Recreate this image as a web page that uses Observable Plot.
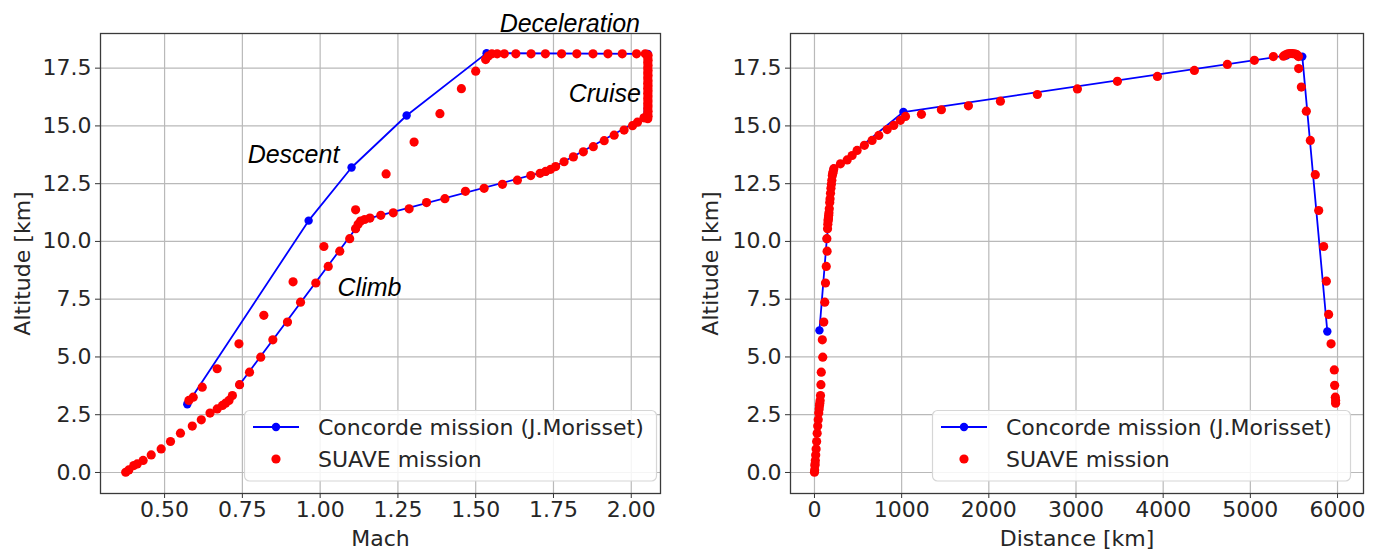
<!DOCTYPE html>
<html>
<head>
<meta charset="utf-8">
<script src="https://cdn.jsdelivr.net/npm/d3@7"></script>
<script src="https://cdn.jsdelivr.net/npm/@observablehq/plot@0.6"></script>
<style>
  body { margin: 0; background: #fff; }
  #wrap { position: relative; width: 1378px; height: 550px; overflow: hidden; }
  #wrap > svg { position: absolute; top: 0; }
</style>
</head>
<body>
<div id="wrap"></div>
<script>
// ---------- tick labels ----------
const altTicks = [0, 2.5, 5, 7.5, 10, 12.5, 15, 17.5];
const machTicks = [0.5, 0.75, 1.0, 1.25, 1.5, 1.75, 2.0];
const distTicks = [0, 1000, 2000, 3000, 4000, 5000, 6000];

// ---------- series names ----------
const seriesNames = ["Concorde mission (J.Morisset)", "SUAVE mission"];

// ---------- Concorde mission (J.Morisset) ----------
const concordeMach    = [0.741, 1.114, 1.160, 1.725, 2.041, 2.053, 1.535, 1.278, 1.101, 0.963, 0.573];
const concordeMachAlt = [3.80, 10.55, 11.01, 13.03, 15.35, 18.12, 18.15, 15.45, 13.20, 10.90, 2.95];
const concordeDist    = [57, 142, 222, 1020, 5413, 5596, 5883];
const concordeDistAlt = [6.15, 10.12, 13.15, 15.60, 18.05, 18.00, 6.10];

// ---------- SUAVE mission : Mach vs altitude ----------
const suaveMach = [
  0.375, 0.385, 0.401, 0.412, 0.431, 0.457, 0.489, 0.519, 0.551, 0.589, 0.618, 0.646, 0.669, 0.686, 0.696, 0.707, 0.718, 0.741,
  0.773, 0.809, 0.848, 0.895, 0.937, 0.986, 1.026, 1.063, 1.095, 1.114, 1.122, 1.130, 1.143, 1.160, 1.195, 1.235, 1.286, 1.342,
  1.401, 1.467, 1.527, 1.586, 1.634, 1.677, 1.707, 1.725, 1.741, 1.757, 1.784, 1.814, 1.846, 1.878, 1.913, 1.945, 1.977, 2.004,
  2.020, 2.041,
  2.053, 2.054, 2.053, 2.054, 2.053, 2.054, 2.053, 2.054, 2.053, 2.054, 2.053, 2.054, 2.053, 2.054, 2.053, 2.054, 2.053, 2.054,
  2.053, 2.054, 2.053, 2.054, 2.053, 2.054, 2.053, 2.054,
  2.045, 2.017, 1.971, 1.925, 1.877, 1.825, 1.776, 1.724, 1.678, 1.629, 1.592, 1.569, 1.552,
  1.540, 1.532, 1.500, 1.454, 1.385, 1.302, 1.212, 1.114, 1.012, 0.913, 0.819, 0.739, 0.669, 0.621, 0.592, 0.578
];
const suaveMachAlt = [
  0.01, 0.11, 0.30, 0.37, 0.52, 0.76, 1.02, 1.34, 1.70, 2.01, 2.28, 2.57, 2.75, 2.90, 3.00, 3.12, 3.33, 3.80,
  4.34, 4.99, 5.74, 6.51, 7.37, 8.20, 8.92, 9.58, 10.12, 10.55, 10.74, 10.88, 10.95, 11.01, 11.13, 11.24, 11.41, 11.68,
  11.85, 12.17, 12.30, 12.47, 12.65, 12.85, 12.95, 13.03, 13.12, 13.24, 13.45, 13.66, 13.88, 14.10, 14.36, 14.60, 14.82, 15.01,
  15.16, 15.35,
  15.31, 15.42, 15.53, 15.64, 15.75, 15.86, 15.97, 16.08, 16.19, 16.30, 16.41, 16.52, 16.63, 16.74, 16.85, 16.96, 17.07, 17.18,
  17.29, 17.40, 17.51, 17.62, 17.73, 17.84, 17.95, 18.06,
  18.12, 18.12, 18.12, 18.12, 18.12, 18.12, 18.12, 18.12, 18.12, 18.12, 18.12, 18.12, 18.12,
  18.02, 17.87, 17.37, 16.61, 15.53, 14.30, 12.92, 11.37, 9.78, 8.25, 6.80, 5.57, 4.49, 3.69, 3.26, 3.12
];

// ---------- SUAVE mission : distance vs altitude ----------
const suaveDist = [
  0, 2, 5, 7, 10, 14, 19, 25, 31, 37, 43, 49, 54, 58, 61, 65, 69, 74,
  78, 95, 90, 107, 118, 126, 135, 145, 142, 150, 153, 156, 158, 160, 163, 166, 170, 175,
  179, 184, 189, 194, 199, 205, 210, 215, 222,
  298, 375, 432, 489, 573, 661, 738, 834, 909, 986, 1044,
  1227, 1456, 1766, 2133, 2557, 3016, 3475, 3934, 4358, 4736, 5046, 5264,
  5380, 5405, 5430, 5455, 5480, 5505, 5525, 5540, 5552,
  5554, 5585, 5642, 5688, 5745, 5784, 5841, 5872, 5898, 5926, 5963, 5967, 5975, 5978, 5978
];
const suaveDistAlt = [
  0.01, 0.11, 0.30, 0.37, 0.52, 0.76, 1.02, 1.34, 1.70, 2.01, 2.28, 2.57, 2.75, 2.90, 3.00, 3.12, 3.33, 3.80,
  4.34, 4.99, 5.74, 6.51, 7.37, 8.20, 8.92, 9.58, 10.12, 10.55, 10.74, 10.88, 10.95, 11.01, 11.13, 11.24, 11.41, 11.68,
  11.85, 12.09, 12.30, 12.47, 12.65, 12.85, 12.95, 13.03, 13.15,
  13.36, 13.53, 13.72, 13.94, 14.16, 14.37, 14.59, 14.84, 15.02, 15.24, 15.41,
  15.50, 15.70, 15.87, 16.07, 16.36, 16.60, 16.93, 17.14, 17.40, 17.66, 17.84, 18.00,
  18.02, 18.08, 18.12, 18.13, 18.13, 18.12, 18.10, 18.06, 18.00,
  17.48, 16.68, 15.64, 14.37, 12.89, 11.34, 9.78, 8.28, 6.84, 5.57, 4.44, 3.77, 3.26, 3.12, 3.00
];

// ---------- phase annotations (data coordinates, left panel) ----------
const phaseLabels = ["Deceleration", "Cruise", "Descent", "Climb"];
const phaseMach   = [1.577, 1.799, 0.767, 1.056];
const phaseAlt    = [19.39, 16.36, 13.76, 8.0];

// ---------- build tables ----------
const zip = (xs, ys) => xs.map((x, i) => ({x, y: ys[i]}));
const concordeL = zip(concordeMach, concordeMachAlt);
const concordeR = zip(concordeDist, concordeDistAlt);
const suaveL = zip(suaveMach, suaveMachAlt);
const suaveR = zip(suaveDist, suaveDistAlt);
const phases = phaseLabels.map((t, i) => ({t, x: phaseMach[i], y: phaseAlt[i]}));

const BLUE = "#0000ff", RED = "#ff0000", GRID = "#b9b9b9", INK = "#262626";
const FONT = "DejaVu Sans";
const yDomain = [-0.91, 19.0];

function panel({width, marginLeft, marginRight, xDomain, xTicks, xFmt, xLabel, yLabelDx, concorde, suave, extra}) {
  return Plot.plot({
    width, height: 550,
    marginLeft, marginRight, marginTop: 33, marginBottom: 57,
    x: {domain: xDomain},
    y: {domain: yDomain},
    style: {fontFamily: FONT, fontSize: "22px", color: INK, background: "transparent", overflow: "visible"},
    marks: [
      Plot.gridX(xTicks, {stroke: GRID, strokeOpacity: 1, strokeWidth: 1.2}),
      Plot.gridY(altTicks, {stroke: GRID, strokeOpacity: 1, strokeWidth: 1.2}),
      Plot.axisX(xTicks, {tickFormat: xFmt, tickSize: 5, tickPadding: 3, label: null, stroke: "#333", fill: INK}),
      Plot.axisY(altTicks, {tickFormat: d => d.toFixed(1), tickSize: 5, tickPadding: 4, label: null, stroke: "#333", fill: INK}),
      Plot.frame({stroke: "#3a3a3a", strokeWidth: 1.3}),
      Plot.line(concorde, {x: "x", y: "y", stroke: BLUE, strokeWidth: 1.8}),
      Plot.dot(concorde, {x: "x", y: "y", fill: BLUE, r: 4.2}),
      Plot.dot(suave, {x: "x", y: "y", fill: RED, r: 4.6}),
      ...(extra || []),
      Plot.text([xLabel], {frameAnchor: "bottom", dy: 45, text: d => d, fontSize: 22, fill: INK, lineAnchor: "middle"}),
      Plot.text(["Altitude [km]"], {frameAnchor: "left", dx: yLabelDx, rotate: -90, text: d => d, fontSize: 22, fill: INK, lineAnchor: "middle", textAnchor: "middle"})
    ]
  });
}

const left = panel({
  width: 700, marginLeft: 100, marginRight: 40,
  xDomain: [0.294, 2.094], xTicks: machTicks, xFmt: d => d.toFixed(2), xLabel: "Mach",
  yLabelDx: -78, concorde: concordeL, suave: suaveL,
  extra: [
    Plot.text(phases, {x: "x", y: "y", text: "t", textAnchor: "start", lineAnchor: "middle",
      fontFamily: "Liberation Sans, Arial, sans-serif", fontStyle: "italic", fontSize: 25, fill: "#000"})
  ]
});
left.style.left = "0px";

const right = panel({
  width: 678, marginLeft: 90, marginRight: 15,
  xDomain: [-275, 6298], xTicks: distTicks, xFmt: d => String(d), xLabel: "Distance [km]",
  yLabelDx: -80, concorde: concordeR, suave: suaveR
});
right.style.left = "700px";

const wrap = document.getElementById("wrap");
wrap.appendChild(left);
wrap.appendChild(right);

// ---------- legends (overlay, one per panel, lower right inside the frame) ----------
const ov = d3.select(wrap).append("svg")
  .attr("width", 1378).attr("height", 550)
  .style("position", "absolute").style("left", "0px").style("top", "0px")
  .style("pointer-events", "none");

function legend(x0, w) {
  const g = ov.append("g").attr("transform", `translate(${x0},410)`);
  g.append("rect").attr("x", 0.5).attr("y", 0.5).attr("width", w).attr("height", 70.5)
    .attr("rx", 5).attr("fill", "#fff").attr("fill-opacity", 0.85)
    .attr("stroke", "#d6d6d6").attr("stroke-width", 1.2);
  g.append("line").attr("x1", 9).attr("x2", 55).attr("y1", 17).attr("y2", 17)
    .attr("stroke", BLUE).attr("stroke-width", 1.8);
  g.append("circle").attr("cx", 32).attr("cy", 17).attr("r", 4.2).attr("fill", BLUE);
  g.append("circle").attr("cx", 32).attr("cy", 49).attr("r", 4.6).attr("fill", RED);
  seriesNames.forEach((s, i) => {
    g.append("text").attr("x", 74).attr("y", 17 + 32 * i).attr("dy", "0.36em")
      .attr("font-family", FONT).attr("font-size", 22).attr("fill", INK).text(s);
  });
}
legend(244, 412);
legend(932, 418);
</script>
</body>
</html>
